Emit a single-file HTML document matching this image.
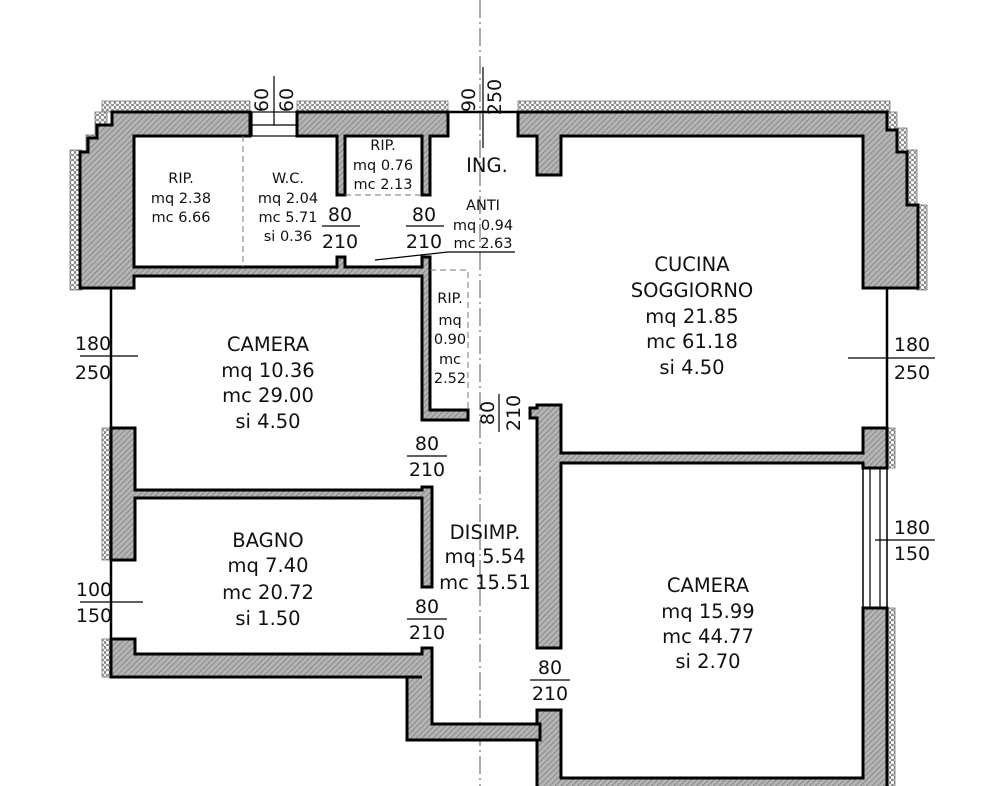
<!DOCTYPE html>
<html><head><meta charset="utf-8"><style>
html,body{margin:0;padding:0;background:#fff;}
svg{display:block;}
text{font-family:"DejaVu Sans","Liberation Sans",sans-serif;fill:#111;text-anchor:middle;}
.b{font-size:19.5px;}
.s{font-size:14.5px;}
.d{font-size:19px;}
</style></head><body>
<svg width="1000" height="786" viewBox="0 0 1000 786" xmlns="http://www.w3.org/2000/svg">
<defs>
<pattern id="h" width="4" height="4" patternUnits="userSpaceOnUse" patternTransform="rotate(45)">
<rect width="4" height="4" fill="#b4b4b4"/><line x1="0" y1="0" x2="0" y2="4" stroke="#6e6e6e" stroke-width="1.2"/></pattern>
<pattern id="c" width="5" height="5" patternUnits="userSpaceOnUse">
<rect width="5" height="5" fill="#fff"/><circle cx="2.5" cy="2.5" r="2" fill="none" stroke="#666" stroke-width="0.8"/></pattern>
</defs>

<line x1="480" y1="0" x2="480" y2="786" stroke="#555" stroke-width="1" stroke-dasharray="18,4,2,4"/>

<g fill="url(#c)" stroke="#777" stroke-width="0.8">
<rect x="102" y="101" width="148" height="11"/>
<rect x="297" y="101" width="151" height="11"/>
<rect x="518" y="101" width="372" height="11"/>
<rect x="95" y="112" width="12" height="28"/>
<rect x="86" y="135" width="12" height="18"/>
<rect x="70" y="150" width="12" height="140"/>
<rect x="887" y="112" width="10" height="20"/>
<rect x="897" y="128" width="10" height="25"/>
<rect x="907" y="150" width="10" height="56"/>
<rect x="917" y="205" width="10" height="85"/>
<rect x="887" y="428" width="8" height="40"/>
<rect x="887" y="608" width="8" height="178"/>
<rect x="102" y="428" width="9" height="132"/>
<rect x="102" y="639" width="9" height="38"/>
</g>

<g fill="url(#h)" stroke="#000" stroke-width="3" stroke-linejoin="miter">
<polygon points="112,112 250,112 250,136 134,136 134,267 337,267 337,257 345,257 345,267 422,267 422,257 430,257 430,410 468,410 468,420 422,420 422,276 134,276 134,288 80,288 80,152 88,152 88,138 97,138 97,125 112,125"/>
<polygon points="297,112 448,112 448,136 430,136 430,195 422,195 422,136 345,136 345,195 337,195 337,136 297,136"/>
<polygon points="518,112 887,112 887,130 897,130 897,152 907,152 907,205 918,205 918,288 863,288 863,136 561,136 561,175 537,175 537,136 518,136"/>
<polygon points="537,405 561,405 561,453 863,453 863,428 887,428 887,468 863,468 863,463 561,463 561,648 537,648 537,418 530,418 530,408 537,408"/>
<polygon points="537,710 561,710 561,778 863,778 863,608 887,608 887,792 537,792"/>
<polygon points="111,428 135,428 135,490 422,490 422,487 432,487 432,587 422,587 422,498 135,498 135,560 111,560"/>
<polygon points="111,639 135,639 135,654 422,654 422,648 432,648 432,724 540,724 540,740 407,740 407,677 111,677"/>
</g>

<g stroke="#000" stroke-width="2.5" fill="none">
<line x1="111" y1="288" x2="111" y2="428"/>
<line x1="111" y1="560" x2="111" y2="639"/>
<line x1="887" y1="288" x2="887" y2="428"/>
<line x1="448" y1="112" x2="518" y2="112"/>
<line x1="407" y1="677" x2="422" y2="677" stroke-width="3"/>
</g>
<g stroke="#000" stroke-width="1.2" fill="none">
<rect x="252" y="112" width="45" height="24"/>
<line x1="252" y1="125" x2="297" y2="125"/>
<rect x="863" y="468" width="24" height="140" stroke-width="1.5"/>
<line x1="870" y1="468" x2="870" y2="608"/>
<line x1="880" y1="468" x2="880" y2="608"/>
<line x1="274" y1="76" x2="274" y2="125"/>
<line x1="483" y1="67" x2="483" y2="148"/>
<line x1="375" y1="260" x2="448" y2="252"/>
<line x1="448" y1="252" x2="515" y2="252"/>
<line x1="138" y1="356" x2="80" y2="356"/>
<line x1="848" y1="358" x2="935" y2="358"/>
<line x1="80" y1="602" x2="143" y2="602"/>
<line x1="875" y1="540" x2="935" y2="540"/>
</g>
<g stroke="#777" stroke-width="1" stroke-dasharray="6,4" fill="none">
<line x1="243" y1="136" x2="243" y2="267"/>
<line x1="345" y1="195" x2="422" y2="195"/>
<polyline points="430,270 468,270 468,410"/>
</g>

<g class="s">
<text x="181" y="183">RIP.</text><text x="181" y="203">mq 2.38</text><text x="181" y="222">mc 6.66</text>
<text x="288" y="183">W.C.</text><text x="288" y="203">mq 2.04</text><text x="288" y="222">mc 5.71</text><text x="288" y="241">si 0.36</text>
<text x="383" y="150">RIP.</text><text x="383" y="170">mq 0.76</text><text x="383" y="189">mc 2.13</text>
<text x="483" y="210">ANTI</text><text x="483" y="230">mq 0.94</text><text x="483" y="248">mc 2.63</text>
<text x="450" y="303">RIP.</text><text x="450" y="325">mq</text><text x="450" y="344">0.90</text><text x="450" y="364">mc</text><text x="450" y="383">2.52</text>
</g>
<text x="487" y="172" class="b">ING.</text>
<g class="b">
<text x="268" y="351">CAMERA</text><text x="268" y="377">mq 10.36</text><text x="268" y="402">mc 29.00</text><text x="268" y="428">si 4.50</text>
<text x="692" y="271">CUCINA</text><text x="692" y="297">SOGGIORNO</text><text x="692" y="323">mq 21.85</text><text x="692" y="348">mc 61.18</text><text x="692" y="374">si 4.50</text>
<text x="268" y="547">BAGNO</text><text x="268" y="572">mq 7.40</text><text x="268" y="599">mc 20.72</text><text x="268" y="625">si 1.50</text>
<text x="485" y="539">DISIMP.</text><text x="485" y="563">mq 5.54</text><text x="485" y="589">mc 15.51</text>
<text x="708" y="592">CAMERA</text><text x="708" y="618">mq 15.99</text><text x="708" y="643">mc 44.77</text><text x="708" y="668">si 2.70</text>
</g>
<g class="d">
<text x="340" y="221">80</text><text x="340" y="248">210</text>
<text x="424" y="221">80</text><text x="424" y="248">210</text>
<text x="427" y="450">80</text><text x="427" y="476">210</text>
<text x="427" y="613">80</text><text x="427" y="639">210</text>
<text x="550" y="674">80</text><text x="550" y="700">210</text>
<text x="93" y="350">180</text><text x="93" y="379">250</text>
<text x="912" y="351">180</text><text x="912" y="379">250</text>
<text x="94" y="596">100</text><text x="94" y="622">150</text>
<text x="912" y="534">180</text><text x="912" y="560">150</text>
<text transform="translate(268,100) rotate(-90)">60</text>
<text transform="translate(293,100) rotate(-90)">60</text>
<text transform="translate(475,100) rotate(-90)">90</text>
<text transform="translate(501,97) rotate(-90)">250</text>
<text transform="translate(494,413) rotate(-90)">80</text>
<text transform="translate(520,413) rotate(-90)">210</text>
</g>
<g stroke="#000" stroke-width="1.2">
<line x1="322" y1="226" x2="360" y2="226"/>
<line x1="406" y1="226" x2="444" y2="226"/>
<line x1="407" y1="456" x2="447" y2="456"/>
<line x1="407" y1="619" x2="447" y2="619"/>
<line x1="530" y1="680" x2="570" y2="680"/>
<line x1="499" y1="394" x2="499" y2="432"/>
</g>
</svg>
</body></html>
